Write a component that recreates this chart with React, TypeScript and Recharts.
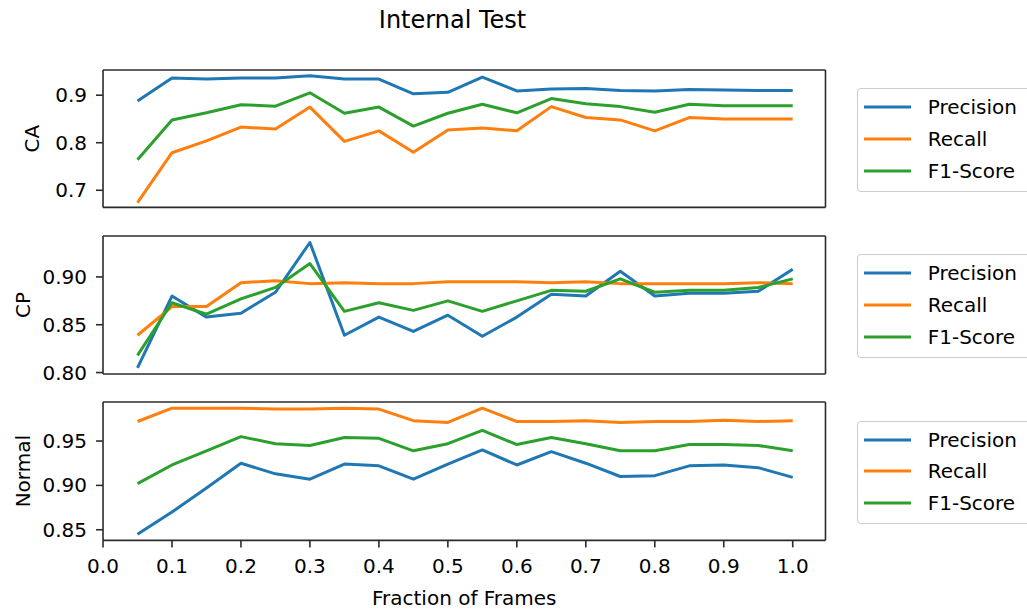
import { Legend, Line, LineChart, ReferenceLine, XAxis, YAxis } from "recharts";

// fraction of frames used (x axis)
const fractions = [
  0.05, 0.1, 0.15, 0.2, 0.25, 0.3, 0.35, 0.4, 0.45, 0.5, 0.55, 0.6, 0.65, 0.7,
  0.75, 0.8, 0.85, 0.9, 0.95, 1.0,
];
const xTicks = [0, 0.1, 0.2, 0.3, 0.4, 0.5, 0.6, 0.7, 0.8, 0.9, 1.0];
const X_MAX = 1.0475;

// CA
const caPrecision = [
  0.888, 0.936, 0.934, 0.936, 0.936, 0.941, 0.934, 0.934, 0.903, 0.906, 0.938,
  0.909, 0.913, 0.914, 0.91, 0.909, 0.912, 0.911, 0.91, 0.91,
];
const caRecall = [
  0.674, 0.779, 0.804, 0.833, 0.829, 0.875, 0.803, 0.825, 0.78, 0.827, 0.831,
  0.825, 0.876, 0.853, 0.848, 0.825, 0.853, 0.85, 0.85, 0.85,
];
const caF1 = [
  0.764, 0.848, 0.863, 0.88, 0.877, 0.905, 0.862, 0.875, 0.835, 0.862, 0.881,
  0.863, 0.893, 0.882, 0.876, 0.864, 0.881, 0.878, 0.878, 0.878,
];
const caTicks = [0.7, 0.8, 0.9];

// CP
const cpPrecision = [
  0.805, 0.88, 0.858, 0.862, 0.884, 0.936, 0.839, 0.858, 0.843, 0.86, 0.838,
  0.858, 0.882, 0.88, 0.906, 0.88, 0.883, 0.883, 0.885, 0.908,
];
const cpRecall = [
  0.839, 0.869, 0.869, 0.894, 0.896, 0.893, 0.894, 0.893, 0.893, 0.895, 0.895,
  0.895, 0.894, 0.895, 0.893, 0.893, 0.893, 0.893, 0.894, 0.893,
];
const cpF1 = [
  0.818, 0.873, 0.861, 0.877, 0.889, 0.914, 0.864, 0.873, 0.865, 0.875, 0.864,
  0.875, 0.886, 0.885, 0.898, 0.884, 0.886, 0.886, 0.889, 0.898,
];
const cpTicks = [0.8, 0.85, 0.9];

// Normal
const nPrecision = [
  0.845, 0.87, 0.897, 0.925, 0.913, 0.907, 0.924, 0.922, 0.907, 0.924, 0.94,
  0.923, 0.938, 0.925, 0.91, 0.911, 0.922, 0.923, 0.92, 0.909,
];
const nRecall = [
  0.972, 0.987, 0.987, 0.987, 0.986, 0.986, 0.987, 0.986, 0.973, 0.971, 0.987,
  0.972, 0.972, 0.973, 0.971, 0.972, 0.972, 0.9735, 0.972, 0.973,
];
const nF1 = [
  0.902, 0.923, 0.939, 0.955, 0.947, 0.945, 0.954, 0.953, 0.939, 0.947, 0.962,
  0.946, 0.954, 0.947, 0.939, 0.939, 0.946, 0.946, 0.945, 0.939,
];
const nTicks = [0.85, 0.9, 0.95];

const series = [
  { key: "precision", name: "Precision", color: "#1f77b4" },
  { key: "recall", name: "Recall", color: "#ff7f0e" },
  { key: "f1", name: "F1-Score", color: "#2ca02c" },
];

const rows = (p: number[], r: number[], f: number[]) =>
  fractions.map((x, i) => ({ x, precision: p[i], recall: r[i], f1: f[i] }));

const FONT = "'DejaVu Sans', sans-serif";
const FRAME = "#2b2b2b";
const MT = 10;

const renderLegend = (props: any) => {
  const payload = [...(props.payload || [])].sort(
    (a: any, b: any) =>
      series.findIndex((s) => s.name === a.value) -
      series.findIndex((s) => s.name === b.value),
  );
  return (
    <div
      style={{
        width: 200,
        height: 103.4,
        boxSizing: "border-box",
        border: "1px solid #cccccc",
        borderRadius: 4,
        background: "rgba(255,255,255,0.8)",
        paddingTop: 2,
        fontFamily: FONT,
      }}
    >
      {payload.map((p: any) => (
        <div
          key={p.value}
          style={{ display: "flex", alignItems: "center", height: 31.7 }}
        >
          <svg width={47} height={4} style={{ marginLeft: 6 }}>
            <line x1={0} y1={2} x2={47} y2={2} stroke={p.color} strokeWidth={3} />
          </svg>
          <span style={{ marginLeft: 17, fontSize: 20, color: "#000", lineHeight: "24px" }}>
            {p.value}
          </span>
        </div>
      ))}
    </div>
  );
};

function Panel({
  plotTop,
  plotH,
  xh,
  data,
  yDomain,
  yTicks,
  yDigits,
  yLabel,
  yLabelX,
  bottom,
}: {
  plotTop: number;
  plotH: number;
  xh: number;
  data: any[];
  yDomain: [number, number];
  yTicks: number[];
  yDigits: number;
  yLabel: string;
  yLabelX: number;
  bottom?: boolean;
}) {
  const cy = MT + plotH / 2;
  return (
    <div style={{ position: "absolute", left: 0, top: plotTop - MT }}>
      <LineChart
        width={1027}
        height={MT + plotH + xh}
        data={data}
        margin={{ top: MT, right: 201.5, bottom: 0, left: 0 }}
        style={{ fontFamily: FONT }}
      >
        <XAxis
          dataKey="x"
          type="number"
          domain={[0, X_MAX]}
          allowDataOverflow
          ticks={xTicks}
          interval={0}
          tickFormatter={(v: number) => v.toFixed(1)}
          tick={bottom ? { fontSize: 20, fill: "#000" } : false}
          tickSize={7}
          tickMargin={11}
          height={xh}
          axisLine={{ stroke: FRAME, strokeWidth: 1.6 }}
          tickLine={{ stroke: FRAME, strokeWidth: 1.6 }}
          label={
            bottom
              ? {
                  value: "Fraction of Frames",
                  position: "insideBottom",
                  offset: 7,
                  fontSize: 20,
                  fill: "#000",
                }
              : undefined
          }
        />
        <YAxis
          type="number"
          domain={yDomain}
          allowDataOverflow
          ticks={yTicks}
          interval={0}
          tickFormatter={(v: number) => v.toFixed(yDigits)}
          tick={{ fontSize: 20, fill: "#000" }}
          tickSize={7}
          tickMargin={9}
          width={103}
          axisLine={{ stroke: FRAME, strokeWidth: 1.6 }}
          tickLine={{ stroke: FRAME, strokeWidth: 1.6 }}
          label={() => (
            <text
              x={yLabelX}
              y={cy}
              transform={`rotate(-90 ${yLabelX} ${cy})`}
              textAnchor="middle"
              fontSize={20}
              fill="#000"
              fontFamily={FONT}
            >
              {yLabel}
            </text>
          )}
        />
        {/* top and right spines */}
        <ReferenceLine y={yDomain[1]} stroke={FRAME} strokeWidth={1.6} ifOverflow="extendDomain" />
        <ReferenceLine x={X_MAX} stroke={FRAME} strokeWidth={1.6} ifOverflow="extendDomain" />
        <Legend
          layout="vertical"
          align="center"
          verticalAlign="middle"
          content={renderLegend}
          wrapperStyle={{ left: 856.7, top: cy - 50.7, width: 200, height: 104 }}
        />
        {series.map((s) => (
          <Line
            key={s.key}
            type="linear"
            dataKey={s.key}
            name={s.name}
            stroke={s.color}
            strokeWidth={3}
            strokeLinejoin="round"
            dot={false}
            isAnimationActive={false}
          />
        ))}
      </LineChart>
    </div>
  );
}

export default function App() {
  return (
    <div
      style={{
        position: "absolute",
        left: 0,
        top: 0,
        width: 1027,
        height: 612,
        overflow: "hidden",
        background: "#fff",
        fontFamily: FONT,
      }}
    >
      <div
        style={{
          position: "absolute",
          left: 0,
          top: 5.7,
          width: 905,
          textAlign: "center",
          fontSize: 24,
          lineHeight: "28px",
          color: "#000",
        }}
      >
        Internal Test
      </div>
      <Panel
        plotTop={70.3}
        plotH={137.4}
        xh={20}
        data={rows(caPrecision, caRecall, caF1)}
        yDomain={[0.664, 0.953]}
        yTicks={caTicks}
        yDigits={1}
        yLabel="CA"
        yLabelX={38.5}
      />
      <Panel
        plotTop={236}
        plotH={138}
        xh={20}
        data={rows(cpPrecision, cpRecall, cpF1)}
        yDomain={[0.7985, 0.9428]}
        yTicks={cpTicks}
        yDigits={2}
        yLabel="CP"
        yLabelX={30}
      />
      <Panel
        plotTop={402.3}
        plotH={138.4}
        xh={71.3}
        data={rows(nPrecision, nRecall, nF1)}
        yDomain={[0.838, 0.994]}
        yTicks={nTicks}
        yDigits={2}
        yLabel="Normal"
        yLabelX={30}
        bottom
      />
    </div>
  );
}
